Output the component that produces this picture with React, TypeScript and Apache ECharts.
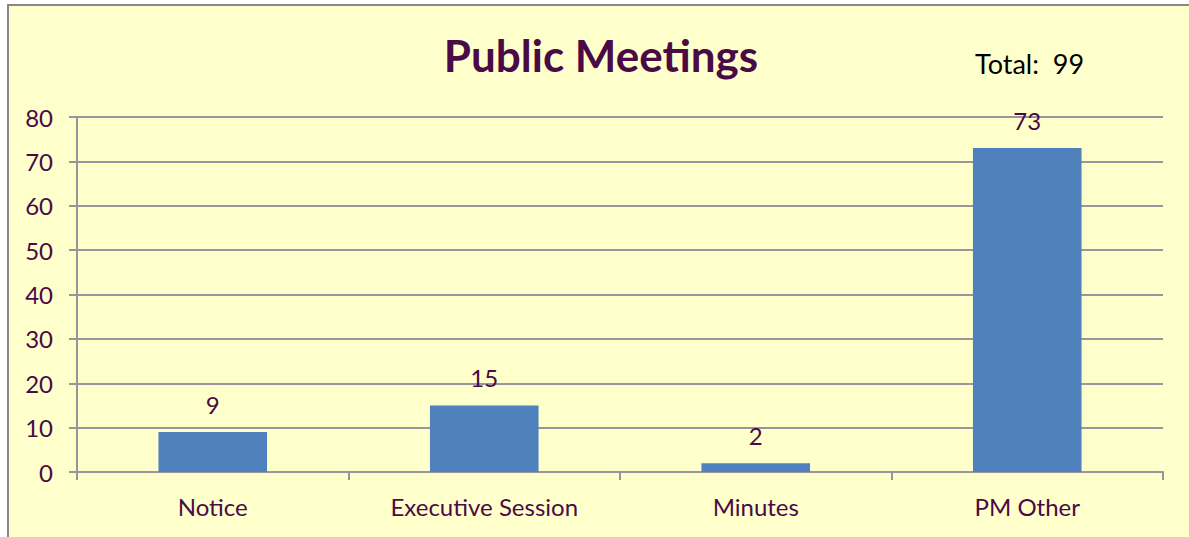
import React, { useEffect, useRef } from "react";
import * as echarts from "echarts";

const categories = ["Notice", "Executive Session", "Minutes", "PM Other"];
const values = [9, 15, 2, 73];
const title = "Public Meetings";
const totalText = "Total:  99";

export default function App() {
  const ref = useRef<HTMLDivElement>(null);
  useEffect(() => {
    const chart = echarts.init(ref.current!, null, { renderer: "svg" });
    const purple = "#4a0a46";
    const gray = "#9a949c";
    chart.setOption({
      animation: false,
      backgroundColor: "#ffffff",
      textStyle: { fontFamily: "Lato" },
      graphic: [
        {
          type: "rect",
          z: -10,
          silent: true,
          shape: { x: 8, y: 5, width: 1190, height: 540 },
          style: { fill: "#ffffcc", stroke: "#8c8590", lineWidth: 2 },
        },
        {
          type: "text",
          left: 975,
          top: 50,
          style: { text: totalText, fontSize: 27, fontFamily: "Lato", fill: "#000000" },
        },
      ],
      title: {
        text: title,
        left: 596,
        textAlign: "center",
        top: 28,
        textStyle: { fontSize: 44, fontWeight: "bold", color: purple, fontFamily: "Lato" },
      },
      grid: { left: 77, right: 26, top: 117, bottom: 65 },
      xAxis: {
        type: "category",
        data: categories,
        axisLine: { show: true, lineStyle: { color: gray, width: 2 } },
        axisTick: { show: true, length: 8, lineStyle: { color: gray, width: 2 } },
        axisLabel: { color: purple, fontSize: 24, margin: 22, fontFamily: "Lato" },
      },
      yAxis: {
        type: "value",
        min: 0,
        max: 80,
        interval: 10,
        axisLine: { show: true, lineStyle: { color: gray, width: 2 } },
        axisTick: { show: true, length: 8, lineStyle: { color: gray, width: 2 } },
        axisLabel: { color: purple, fontSize: 24, margin: 24, fontFamily: "Lato" },
        splitLine: { show: true, lineStyle: { color: gray, width: 2 } },
      },
      series: [
        {
          type: "bar",
          data: values,
          barWidth: "40%",
          itemStyle: { color: "#4f81bd" },
          label: {
            show: true,
            position: "top",
            distance: 16,
            color: purple,
            fontSize: 24,
            fontFamily: "Lato",
          },
        },
      ],
    });
    return () => chart.dispose();
  }, []);
  return (
    <div
      ref={ref}
      style={{ position: "fixed", left: 0, top: 0, width: 1189, height: 537 }}
    />
  );
}
